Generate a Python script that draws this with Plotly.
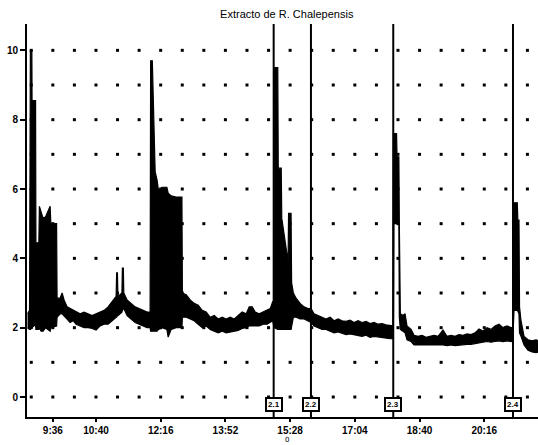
import plotly.graph_objects as go

# ---- data (time in minutes after midnight, signal envelope hi/lo) ----
t = [538.5, 541.5, 542.7, 544.9, 545.2, 550.4, 550.9, 555.3, 556.1, 558.6, 561.6, 565.3, 569.0, 572.0,
     573.1, 581.6, 582.3, 586.8, 589.8, 592.7, 597.2, 601.6, 606.1, 610.5, 616.5, 622.4, 628.3, 634.3,
     640.2, 646.2, 652.1, 658.0, 664.0, 669.9, 670.7, 671.8, 672.6, 678.5, 679.2, 680.6, 681.3, 686.2,
     692.1, 698.1, 704.0, 709.9, 715.9, 720.3, 721.1, 723.6, 724.8, 726.3, 727.8, 730.7, 732.7, 738.2,
     745.2, 747.1, 751.6, 759.0, 767.5, 768.2, 773.9, 779.8, 785.7, 791.7, 797.6, 803.5, 809.5, 815.4,
     821.3, 827.3, 833.2, 839.1, 845.1, 851.0, 856.9, 862.9, 867.3, 871.8, 876.2, 882.2, 888.1, 894.0,
     898.5, 902.2, 904.1, 904.6, 909.7, 910.4, 914.8, 915.6, 919.0, 923.0, 925.0, 925.7, 929.4, 930.2,
     932.8, 936.8, 942.8, 948.7, 954.6, 959.1, 963.5, 969.5, 975.4, 981.3, 987.3, 993.2, 999.1, 1005.1,
     1011.0, 1016.9, 1022.9, 1028.8, 1034.7, 1040.7, 1046.6, 1052.5, 1058.5, 1064.4, 1070.3, 1076.3,
     1080.4, 1081.2, 1081.9, 1085.9, 1086.6, 1089.3, 1090.0, 1091.5, 1095.5, 1098.5, 1101.4, 1107.4,
     1111.8, 1117.7, 1123.7, 1129.6, 1135.5, 1141.5, 1147.4, 1154.8, 1160.7, 1166.7, 1172.6, 1178.5,
     1184.5, 1190.4, 1196.3, 1202.3, 1208.2, 1214.1, 1220.1, 1226.0, 1231.9, 1237.9, 1243.8, 1249.7,
     1255.7, 1258.3, 1259.1, 1260.1, 1265.0, 1265.8, 1267.5, 1268.3, 1270.5, 1275.0, 1280.9, 1286.9,
     1292.8, 1296.5]
hi = [2.40, 2.50, 10.0, 10.0, 8.55, 8.55, 4.45, 4.45, 5.50, 5.35, 5.15, 5.20, 5.40, 5.50,
      5.00, 5.00, 2.85, 2.85, 3.00, 2.80, 2.60, 2.55, 2.50, 2.45, 2.40, 2.45, 2.40, 2.35,
      2.40, 2.45, 2.50, 2.60, 2.75, 2.90, 3.58, 3.58, 2.90, 3.00, 3.72, 3.72, 3.00, 2.80,
      2.70, 2.60, 2.55, 2.50, 2.45, 2.45, 9.70, 9.70, 8.80, 7.40, 6.50, 6.25, 5.97, 6.05,
      6.05, 5.88, 5.80, 5.77, 5.77, 3.00, 2.95, 2.80, 2.70, 2.65, 2.50, 2.45, 2.30, 2.35,
      2.25, 2.30, 2.25, 2.30, 2.25, 2.35, 2.45, 2.40, 2.60, 2.60, 2.45, 2.40, 2.45, 2.50,
      2.55, 2.75, 2.75, 9.50, 9.50, 6.60, 6.60, 5.16, 4.70, 4.15, 3.90, 5.30, 5.30, 3.30,
      3.00, 2.85, 2.70, 2.60, 2.55, 2.55, 2.40, 2.35, 2.30, 2.25, 2.30, 2.20, 2.25, 2.20,
      2.18, 2.22, 2.15, 2.20, 2.15, 2.18, 2.12, 2.15, 2.10, 2.12, 2.08, 2.05,
      2.05, 7.60, 7.60, 7.60, 6.93, 6.93, 5.00, 2.40, 2.35, 2.40, 2.05, 1.95,
      1.78, 1.75, 1.78, 1.72, 1.75, 1.78, 1.75, 1.93, 1.75, 1.78, 1.75, 1.80,
      1.78, 1.82, 1.80, 1.85, 1.96, 1.90, 2.00, 1.95, 2.05, 2.10, 2.00, 2.05,
      2.00, 2.00, 5.60, 5.60, 5.60, 5.10, 5.10, 2.60, 2.20, 1.75, 1.65, 1.62,
      1.65, 1.62]
lo = [2.00, 1.95, 1.95, 2.00, 2.00, 2.10, 1.95, 1.95, 2.00, 1.90, 1.90, 2.00, 1.95, 1.90,
      2.00, 2.05, 2.30, 2.40, 2.40, 2.35, 2.25, 2.15, 2.20, 2.10, 2.05, 2.00, 2.00, 1.98,
      1.93, 2.05, 2.10, 2.10, 2.20, 2.30, 2.30, 2.35, 2.35, 2.45, 2.50, 2.55, 2.55, 2.35,
      2.25, 2.15, 2.10, 2.05, 2.00, 2.00, 1.90, 1.90, 1.90, 1.90, 1.90, 1.90, 1.95, 2.00,
      1.95, 1.73, 1.95, 2.00, 2.00, 2.30, 2.30, 2.25, 2.20, 2.10, 2.00, 2.05, 1.95, 1.90,
      1.85, 1.90, 1.85, 1.88, 1.90, 1.92, 1.98, 2.00, 2.05, 2.05, 2.05, 2.05, 2.10, 2.10,
      2.15, 2.20, 2.00, 2.00, 1.95, 1.95, 1.93, 1.93, 1.93, 1.93, 1.95, 1.95, 1.95, 2.00,
      2.30, 2.30, 2.25, 2.25, 2.20, 2.15, 2.05, 2.00, 1.95, 1.95, 1.90, 1.85, 1.88, 1.85,
      1.80, 1.82, 1.80, 1.78, 1.75, 1.78, 1.72, 1.75, 1.72, 1.70, 1.70, 1.68,
      1.68, 1.90, 5.00, 5.00, 5.00, 5.00, 2.30, 1.95, 1.90, 1.85, 1.65, 1.60,
      1.50, 1.50, 1.48, 1.48, 1.50, 1.48, 1.50, 1.50, 1.48, 1.50, 1.48, 1.50,
      1.50, 1.52, 1.52, 1.55, 1.55, 1.58, 1.60, 1.58, 1.60, 1.62, 1.60, 1.62,
      1.60, 1.62, 1.90, 2.50, 2.50, 2.50, 2.40, 1.85, 1.75, 1.50, 1.35, 1.30,
      1.28, 1.30]

event_times = [903.6, 958.9, 1081.0, 1258.6]
event_labels = ["2.1", "2.2", "2.3", "2.4"]

tick_vals = [576, 640, 736, 832, 928, 1024, 1120, 1216]
tick_text = ["9:36", "10:40", "12:16", "13:52", "15:28", "17:04", "18:40", "20:16"]
y_ticks = [0, 2, 4, 6, 8, 10]

x_range = [537.7, 1295.7]
y_range = [-0.577, 10.76]

FONT = "Liberation Sans, Arial, sans-serif"

fig = go.Figure()

# dotted grid (every 32 min, every unit)
gx, gy = [], []
m = 544
while m < x_range[1]:
    for v in range(0, 11):
        gx.append(m)
        gy.append(v)
    m += 32
fig.add_trace(go.Scatter(x=gx, y=gy, mode="markers",
                         marker=dict(symbol="square", size=3, color="black"),
                         hoverinfo="skip", showlegend=False))

# signal envelope
fig.add_trace(go.Scatter(x=t + t[::-1], y=hi + lo[::-1], mode="lines",
                         fill="toself", fillcolor="black",
                         line=dict(color="black", width=1.2),
                         hoverinfo="skip", showlegend=False))

# event markers
ex, ey = [], []
for et in event_times:
    ex += [et, et, None]
    ey += [y_range[0], y_range[1], None]
fig.add_trace(go.Scatter(x=ex, y=ey, mode="lines",
                         line=dict(color="black", width=2),
                         hoverinfo="skip", showlegend=False))

for et, lab in zip(event_times, event_labels):
    fig.add_annotation(x=et, y=-0.23, xref="x", yref="y", text="<b>" + lab + "</b>",
                       showarrow=False, font=dict(family=FONT, size=8, color="black"),
                       bgcolor="white", bordercolor="black", borderwidth=2, borderpad=1)

fig.add_annotation(x=923.3, y=-0.0712, xref="x", yref="paper", yanchor="bottom",
                   text="0", showarrow=False, borderpad=0,
                   font=dict(family="DejaVu Sans", size=7, color="black"))

fig.update_layout(
    width=538, height=445,
    margin=dict(l=27, r=0, t=24, b=28, pad=0),
    paper_bgcolor="white", plot_bgcolor="white",
    title=dict(text="Extracto de R. Chalepensis", x=0.533, xanchor="center",
               y=1 - 14 / 445, yanchor="middle",
               font=dict(family=FONT, size=11, color="black")),
    xaxis=dict(range=x_range, tickvals=tick_vals, ticktext=tick_text,
               ticks="outside", ticklen=3, tickwidth=1.5, tickcolor="black",
               showline=True, linewidth=2, linecolor="black",
               showgrid=False, zeroline=False,
               tickfont=dict(family=FONT, size=10, color="black", weight="bold")),
    yaxis=dict(range=y_range, tickvals=y_ticks,
               ticks="outside", ticklen=5, tickwidth=1.5, tickcolor="black",
               showline=True, linewidth=2, linecolor="black",
               showgrid=False, zeroline=False,
               tickfont=dict(family=FONT, size=10, color="black", weight="bold")),
)

fig.write_html("out.html")
